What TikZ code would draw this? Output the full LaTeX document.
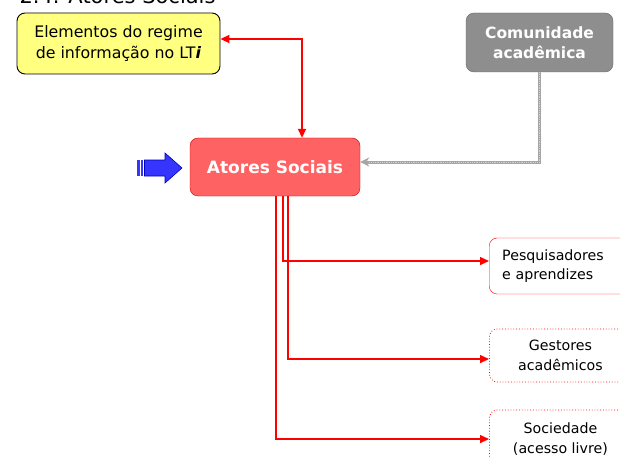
\documentclass[tikz,border=0pt]{standalone}
\usepackage{fontspec}
\setmainfont{DejaVu Sans}
\usetikzlibrary{positioning}
\usetikzlibrary{calc}
\usetikzlibrary{arrows.meta}
\usepackage{xcolor}
\definecolor{amarelo}{HTML}{FFFF80}
\definecolor{vermelho}{HTML}{FF6262}
\definecolor{bordaV}{HTML}{D00000}
\definecolor{cinza}{HTML}{8E8E8E}
\definecolor{azul}{HTML}{3535FF}

\begin{document}
\begin{tikzpicture}[x=1pt,y=-1pt,
    caixa/.style={draw, rounded corners=8pt, align=center, inner sep=0pt},
    folha/.style={caixa, draw=red, fill=white, minimum width=142pt,
      font=\fontsize{14.2}{19.5}\selectfont},
    liga/.style={red, line width=1.4pt, -{Triangle[length=9pt,width=8pt]}}]
    \useasboundingbox (0,0) rectangle (620,457);
    \clip (0,0) rectangle (620,457);
    % titulo (cortado no topo)
    \node[anchor=base west, font=\fontsize{21}{21}\selectfont] (tit) at (16,3.5) {2.4. Atores Sociais};
    % caixas
    \node[caixa, line width=0.9pt, fill=amarelo, minimum width=203pt, minimum height=61pt,
      font=\fontsize{15.8}{21}\selectfont] (regime) at (118.5,43.5)
      {Elementos do regime\\de informação no LT\textbf{\textit{i}}};
    \node[caixa, draw=gray!80!black, fill=cinza, text=white, minimum width=147pt,
      minimum height=59pt, font=\fontsize{15.5}{20}\selectfont\bfseries] (comun) at (539.5,42.5)
      {Comunidade\\acadêmica};
    \node[caixa, draw=bordaV, fill=vermelho, text=white, minimum width=170pt,
      minimum height=58pt, font=\fontsize{17}{20}\selectfont\bfseries] (atores) at (275,167)
      {Atores Sociais};
    \node[folha, anchor=west, minimum height=56pt, text width=116pt, align=left,
      inner xsep=13pt] (pesq) at (489,266) {Pesquisadores\\e aprendizes};
    \node[folha, anchor=west, minimum height=53pt, dotted, line width=0.8pt] (gest) at (489,355.5)
      {Gestores\\acadêmicos};
    \node[folha, anchor=west, minimum height=58pt, dotted, line width=0.8pt] (soc) at (489,439)
      {Sociedade\\(acesso livre)};
    % seta azul
    \fill[azul] (137,160) rectangle (139.5,176);
    \fill[azul] (141,160) rectangle (143,176);
    \filldraw[fill=azul, draw=blue!70!black, line width=0.6pt]
      (144.5,160) -- (165,160) -- (165,153) -- (182,168) -- (165,183) -- (165,176)
      -- (144.5,176) -- cycle;
    % ligacoes
    \draw[liga, line width=1.8pt, {Triangle[length=9pt,width=8pt]}-{Triangle[length=9pt,width=8pt]}]
      ([yshift=4.5pt]regime.east) -| ([xshift=27pt]atores.north);
    \draw[gray!70, line width=3pt, -{Stealth[length=9pt,width=9pt]}]
      (comun.south) |- ([yshift=5pt]atores.east);
    \draw[gray!35, line width=0.8pt, densely dotted, shorten >=9pt]
      (comun.south) |- ([yshift=5pt]atores.east);
    \foreach \dx/\dy/\alvo in {93/5/pesq,98/-3.5/gest,86/0/soc} {
      \draw[liga] ([xshift=\dx pt]atores.south west) |- ([yshift=\dy pt]\alvo.west);
    }
\end{tikzpicture}
\end{document}
